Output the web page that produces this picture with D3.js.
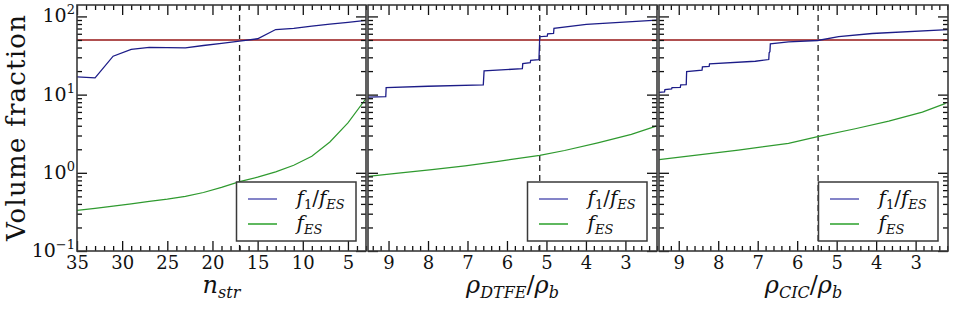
<!DOCTYPE html>
<html>
<head>
<meta charset="utf-8">
<script src="https://cdn.jsdelivr.net/npm/d3@7"></script>
<style>
  body { margin: 0; background: #fff; }
  svg text { font-family: "DejaVu Serif", "Liberation Serif", serif; fill: #111; }
</style>
</head>
<body>
<svg id="chart" width="955" height="311"></svg>
<script>
// ---- data ----
// panel 1: number of streams
const nStr = [35, 33, 31, 29, 27, 25, 23, 21, 19, 17, 15, 13, 11, 9, 7, 5, 3]
const nStrRatio = [16.9, 16.4, 31, 37.8, 40.2, 40, 39.6, 42.5, 45.3, 48.3, 51.8, 68, 70.5, 75, 79.5, 84, 89]
const nStrFes = [0.33, 0.35, 0.375, 0.40, 0.43, 0.46, 0.50, 0.56, 0.65, 0.77, 0.88, 1.03, 1.25, 1.63, 2.48, 4.35, 8.9]
const nStrCut = 17

// panel 2: DTFE density
const dtfeRho = [9.52, 9.07, 9.06, 8.0, 6.60, 6.58, 5.61, 5.60, 5.41, 5.40, 5.19, 5.17, 4.98, 4.97, 4.82, 4.81, 3.99, 2.18]
const dtfeRatio = [9.3, 9.4, 12.3, 12.8, 13.3, 20.1, 21.5, 24.9, 25.6, 27.5, 28.1, 55, 56, 60, 60.5, 70.2, 78.9, 89.7]
const dtfeFesRho = [9.52, 8.75, 7.90, 7.06, 6.22, 5.17, 4.54, 3.70, 2.85, 2.22]
const dtfeFes = [0.90, 0.99, 1.10, 1.23, 1.40, 1.67, 1.93, 2.42, 3.10, 3.96]
const dtfeCut = 5.17

// panel 3: CIC density
const cicRho = [9.50, 9.36, 9.35, 9.18, 9.17, 8.96, 8.95, 8.81, 8.80, 8.41, 8.40, 8.23, 8.22, 7.06, 6.72, 6.71, 6.69, 6.68, 6.22, 5.48, 4.95, 4.10, 2.16]
const cicRatio = [10.7, 10.8, 11.6, 11.8, 12.3, 12.4, 13.3, 13.4, 19.7, 20.5, 22.6, 23.0, 24.7, 26.7, 28.1, 34.3, 35.5, 44.7, 47.3, 49.2, 55, 60.5, 68]
const cicFesRho = [9.50, 8.76, 7.49, 6.22, 5.48, 4.53, 3.68, 2.83, 2.24]
const cicFes = [1.47, 1.63, 1.95, 2.38, 2.90, 3.66, 4.59, 5.98, 7.73]
const cicCut = 5.47

const threshold = 50
const nStrTicks = [35, 30, 25, 20, 15, 10, 5]
const rhoTicks = [9, 8, 7, 6, 5, 4, 3]
const yTickExp = [-1, 0, 1, 2]

// ---- layout ----
const serif = "'DejaVu Serif', 'Liberation Serif', serif"
const svg = d3.select("#chart")
const panelX = [77, 368, 659]
const panelW = 289
const yTop = 5, yBottom = 251
const y = d3.scaleLog().domain([0.1, 140]).range([yBottom, yTop])

const panels = [
  { xDomain: [35, 3], ticks: nStrTicks, minorStep: 1, ratioX: nStr, ratio: nStrRatio, fesX: nStr, fes: nStrFes, cut: nStrCut,
    label: [["n", 24, "italic", 0], ["str", 16, "italic", 5]] },
  { xDomain: [9.52, 2.2], ticks: rhoTicks, minorStep: 0.2, ratioX: dtfeRho, ratio: dtfeRatio, fesX: dtfeFesRho, fes: dtfeFes, cut: dtfeCut,
    label: [["ρ", 24, "italic", 0], ["DTFE", 16, "italic", 5], ["/", 24, "normal", 0], ["ρ", 24, "italic", 0], ["b", 16, "italic", 5]] },
  { xDomain: [9.5, 2.18], ticks: rhoTicks, minorStep: 0.2, ratioX: cicRho, ratio: cicRatio, fesX: cicFesRho, fes: cicFes, cut: cicCut,
    label: [["ρ", 24, "italic", 0], ["CIC", 16, "italic", 5], ["/", 24, "normal", 0], ["ρ", 24, "italic", 0], ["b", 16, "italic", 5]] }
]

function mathText(sel, parts) {
  let cur = 0
  sel.attr("font-family", serif)
  parts.forEach(([t, size, style, shift]) => {
    sel.append("tspan").text(t)
      .attr("font-size", size)
      .attr("font-style", style)
      .attr("dy", shift - cur)
    cur = shift
  })
  return sel
}

function styleAxis(g) {
  g.attr("font-family", serif)
  g.select(".domain").remove()
  g.selectAll(".tick line").attr("stroke", "#111").attr("stroke-width", 1.3)
  g.selectAll("text").attr("font-family", serif).attr("font-size", 18).attr("fill", "#111")
  return g
}

const yMinor = d3.range(-1, 2).flatMap(k => d3.range(2, 10).map(m => m * Math.pow(10, k)))

panels.forEach((p, i) => {
  const x0 = panelX[i], x1 = x0 + panelW
  const x = d3.scaleLinear().domain(p.xDomain).range([x0, x1])
  const g = svg.append("g")

  svg.append("clipPath").attr("id", "clip" + i)
    .append("rect").attr("x", x0).attr("y", yTop).attr("width", panelW).attr("height", yBottom - yTop)
  const plot = g.append("g").attr("clip-path", `url(#clip${i})`)

  const line = d3.line().x(d => x(d[0])).y(d => y(d[1]))

  plot.append("line")
    .attr("x1", x(p.cut)).attr("x2", x(p.cut)).attr("y1", yTop).attr("y2", yBottom)
    .attr("stroke", "#222").attr("stroke-width", 1.3).attr("stroke-dasharray", "6,4")

  plot.append("line")
    .attr("x1", x0).attr("x2", x1).attr("y1", y(threshold)).attr("y2", y(threshold))
    .attr("stroke", "#b05050").attr("stroke-width", 2)

  plot.append("path").datum(d3.zip(p.fesX, p.fes)).attr("d", line)
    .attr("fill", "none").attr("stroke", "#2f9a2f").attr("stroke-width", 1.2)

  plot.append("path").datum(d3.zip(p.ratioX, p.ratio)).attr("d", line)
    .attr("fill", "none").attr("stroke", "#1c1c88").attr("stroke-width", 1.3)

  // x axes (ticks pointing inward)
  const lo = Math.min(...p.xDomain), hi = Math.max(...p.xDomain)
  const minorX = d3.range(Math.ceil(lo / p.minorStep) * p.minorStep, hi + 1e-9, p.minorStep)
    .map(v => +v.toFixed(2)).filter(v => !p.ticks.includes(v))

  styleAxis(g.append("g").attr("transform", `translate(0,${yBottom})`)
    .call(d3.axisBottom(x).tickValues(p.ticks).tickSize(-10).tickPadding(5).tickFormat(d3.format("d"))))
  styleAxis(g.append("g").attr("transform", `translate(0,${yBottom})`)
    .call(d3.axisBottom(x).tickValues(minorX).tickSize(-5).tickFormat("")))
  styleAxis(g.append("g").attr("transform", `translate(0,${yTop})`)
    .call(d3.axisTop(x).tickValues(p.ticks).tickSize(-10).tickFormat("")))
  styleAxis(g.append("g").attr("transform", `translate(0,${yTop})`)
    .call(d3.axisTop(x).tickValues(minorX).tickSize(-5).tickFormat("")))

  // y axes on both sides
  const yMajor = yTickExp.map(e => Math.pow(10, e))
  styleAxis(g.append("g").attr("transform", `translate(${x0},0)`)
    .call(d3.axisLeft(y).tickValues(yMajor).tickSize(-10).tickFormat("")))
  styleAxis(g.append("g").attr("transform", `translate(${x0},0)`)
    .call(d3.axisLeft(y).tickValues(yMinor).tickSize(-5).tickFormat("")))
  styleAxis(g.append("g").attr("transform", `translate(${x1},0)`)
    .call(d3.axisRight(y).tickValues(yMajor).tickSize(-10).tickFormat("")))
  styleAxis(g.append("g").attr("transform", `translate(${x1},0)`)
    .call(d3.axisRight(y).tickValues(yMinor).tickSize(-5).tickFormat("")))

  if (i === 0) {
    yTickExp.forEach(e => {
      mathText(g.append("text").attr("x", x0 - 2).attr("y", y(Math.pow(10, e)) + 6).attr("text-anchor", "end"),
        [["10", 19, "normal", 0], [e < 0 ? "\u2212" + (-e) : String(e), 13, "normal", -8]])
    })
  }

  // frame
  g.append("rect").attr("x", x0).attr("y", yTop).attr("width", panelW).attr("height", yBottom - yTop)
    .attr("fill", "none").attr("stroke", "#3a3a3a").attr("stroke-width", 1.6)

  // x label
  mathText(g.append("text").attr("x", (x0 + x1) / 2).attr("y", 293).attr("text-anchor", "middle"), p.label)

  // legend
  const lx = x1 - 129.5, ly = 182
  const lg = g.append("g")
  lg.append("rect").attr("x", lx).attr("y", ly).attr("width", 119.5).attr("height", 59)
    .attr("fill", "#fff").attr("stroke", "#3a3a3a").attr("stroke-width", 1.5)
  const entries = [
    { color: "#8484c8", parts: [["f", 20, "italic", 0], ["1", 13, "normal", 4], ["/", 20, "normal", 0], ["f", 20, "italic", 0], ["ES", 13, "italic", 4]] },
    { color: "#5fb85f", parts: [["f", 20, "italic", 0], ["ES", 13, "italic", 4]] }
  ]
  entries.forEach((en, k) => {
    const ey = ly + 17 + k * 25
    lg.append("line").attr("x1", lx + 11.5).attr("x2", lx + 40.5).attr("y1", ey).attr("y2", ey)
      .attr("stroke", en.color).attr("stroke-width", 2)
    mathText(lg.append("text").attr("x", lx + 60).attr("y", ey + 6), en.parts)
  })
})

// y label
svg.append("text")
  .attr("transform", "translate(25,128) rotate(-90)")
  .attr("text-anchor", "middle")
  .attr("font-family", serif)
  .attr("font-size", 26)
  .attr("textLength", 226).attr("lengthAdjust", "spacing")
  .text("Volume fraction")
</script>
</body>
</html>
